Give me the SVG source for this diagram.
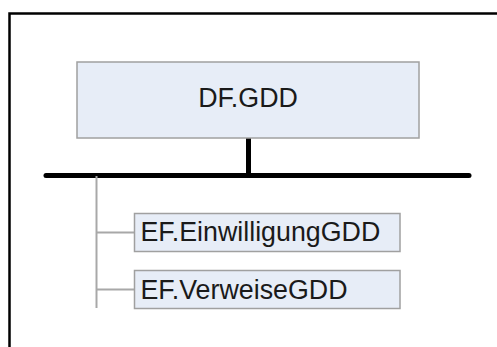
<svg xmlns="http://www.w3.org/2000/svg" width="497" height="347" viewBox="0 0 497 347">
<style>
.box{fill:#e7edf7;stroke:#a0a0a0;stroke-width:1.5}
.lbl{font-family:"Liberation Sans",Arial,sans-serif;font-size:26.8px;fill:#1a1a1a}
.thick{stroke:#000;stroke-width:5;stroke-linecap:round;fill:none}
.thin{stroke:#a8a8a8;stroke-width:2;fill:none}
</style>
<rect width="497" height="347" fill="#fff"/>
<path d="M9.5 348 V13.5 H498" fill="none" stroke="#000" stroke-width="2.5"/>
<g id="connectors">
<line class="thick" x1="248.5" y1="138" x2="248.5" y2="175.5"/>
<line class="thick" x1="46" y1="175.5" x2="469" y2="175.5"/>
<line class="thin" x1="96.5" y1="176" x2="96.5" y2="308"/>
<line class="thin" x1="96.5" y1="232.5" x2="134" y2="232.5"/>
<line class="thin" x1="96.5" y1="289.5" x2="134" y2="289.5"/>
</g>
<g id="df-gdd">
<rect class="box" x="77" y="62" width="342" height="76"/>
<text class="lbl" x="248" y="107" text-anchor="middle">DF.GDD</text>
</g>
<g id="ef-einwilligung">
<rect class="box" x="134.5" y="213.5" width="265.5" height="38"/>
<text class="lbl" x="140.5" y="240.5">EF.EinwilligungGDD</text>
</g>
<g id="ef-verweise">
<rect class="box" x="134.5" y="270.5" width="265.5" height="38"/>
<text class="lbl" x="140.5" y="298.5">EF.VerweiseGDD</text>
</g>
</svg>
